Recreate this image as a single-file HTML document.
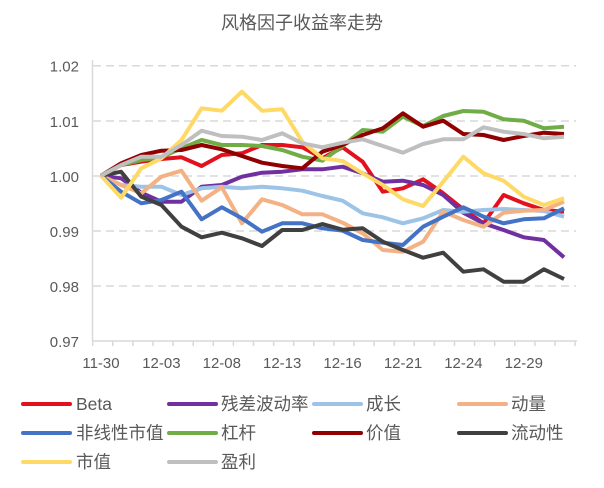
<!DOCTYPE html>
<html><head><meta charset="utf-8"><style>
body{margin:0;background:#fff;width:604px;height:483px;overflow:hidden;font-family:"Liberation Sans","Noto Sans CJK SC",sans-serif;}
</style></head><body>
<svg id="s" width="604" height="483" xmlns="http://www.w3.org/2000/svg" font-family="Liberation Sans, Noto Sans CJK SC, sans-serif">
<text x="302" y="29" text-anchor="middle" font-size="18" fill="#595959">风格因子收益率走势</text>
</svg>
<script>
var s=document.getElementById('s'),NS='http://www.w3.org/2000/svg';
function el(t,a,txt){var e=document.createElementNS(NS,t);for(var k in a)e.setAttribute(k,a[k]);if(txt)e.textContent=txt;s.appendChild(e);return e;}
var gy=[65.7,121,176,231,286];
var yl=['1.02','1.01','1.00','0.99','0.98','0.97'];
gy.forEach(function(y){el('line',{x1:93,x2:576,y1:y,y2:y,stroke:'#d9d9d9','stroke-width':1.5,'stroke-dasharray':'8,5'});});
yl.forEach(function(t,i){el('text',{x:79,y:[65.7,121,176,231,286,341][i]+6,'text-anchor':'end','font-size':15,fill:'#595959'},t);});
el('line',{x1:92.5,x2:92.5,y1:60,y2:341,stroke:'#d9d9d9','stroke-width':1.5});
el('line',{x1:92,x2:577,y1:341,y2:341,stroke:'#d9d9d9','stroke-width':1.5});
for(var i=0;i<=24;i++){var x=92.7+20.1*i;el('line',{x1:x,x2:x,y1:341,y2:346,stroke:'#d9d9d9','stroke-width':1.5});}
var xl=['11-30','12-03','12-08','12-13','12-16','12-21','12-24','12-29'];
xl.forEach(function(t,i){el('text',{x:101+60.4*i,y:368,'text-anchor':'middle','font-size':15,fill:'#595959'},t);});
var D=[
['#e3101e',[347,315,305,297,292,318,285,280,255,255,262,295],[262,305,395,385,358,400,448,490,405,430,450,455]],
['#7030a0',[347,355,398,425,425,380,375,350,338,335,328,328],[320,340,365,362,375,405,458,490,510,532,540,592]],
['#9dc3e6',[347,375,380,380,405,385,380,385,380,385,392,408],[422,460,472,490,475,450,455,450,447,450,453,470]],
['#f4b183',[347,375,400,350,332,422,382,490,418,435,463,463],[488,520,570,575,545,455,480,500,458,452,450,425]],
['#4472c4',[347,395,430,420,395,478,442,475,515,490,490,505],[512,540,548,555,500,470,442,470,490,478,475,445]],
['#70ad47',[347,315,300,292,265,240,255,255,258,270,290,302],[258,210,215,170,198,168,153,155,178,182,205,200]],
['#900000',[347,310,285,272,270,255,268,288,308,318,325,275],[255,225,205,160,200,182,222,225,240,228,218,222]],
['#404040',[347,335,410,435,500,532,518,535,558,510,510,492],[509,505,545,570,593,578,635,628,665,665,628,657]],
['#ffd966',[347,413,325,295,240,145,152,95,152,148,245,295],[303,340,375,418,438,365,290,340,362,410,435,415]],
['#bfbfbf',[347,315,290,290,255,212,228,230,240,220,250,262],[248,238,258,278,252,238,238,202,215,222,235,230]]
];
D.forEach(function(d){var a=d[1].concat(d[2]);var p=a.map(function(z,i){return (101+20.13*i).toFixed(1)+','+(z/3+60).toFixed(1);}).join(' ');
el('polyline',{points:p,fill:'none',stroke:d[0],'stroke-width':4,'stroke-linejoin':'round'});});
var L=[['Beta','#e3101e'],['残差波动率','#7030a0'],['成长','#9dc3e6'],['动量','#f4b183'],['非线性市值','#4472c4'],['杠杆','#70ad47'],['价值','#900000'],['流动性','#404040'],['市值','#ffd966'],['盈利','#bfbfbf']];
var cx=[[23,76],[169,221],[314,366],[459,511]];
var ry=[404,433,462];
L.forEach(function(l,i){var r=Math.floor(i/4),c=i%4,y=ry[r];
el('line',{x1:cx[c][0],x2:cx[c][0]+47,y1:y,y2:y,stroke:l[1],'stroke-width':4,'stroke-linecap':'round'});
el('text',{x:cx[c][1],y:y+6,'font-size':17.5,fill:'#595959'},l[0]);});
</script>
</body></html>
